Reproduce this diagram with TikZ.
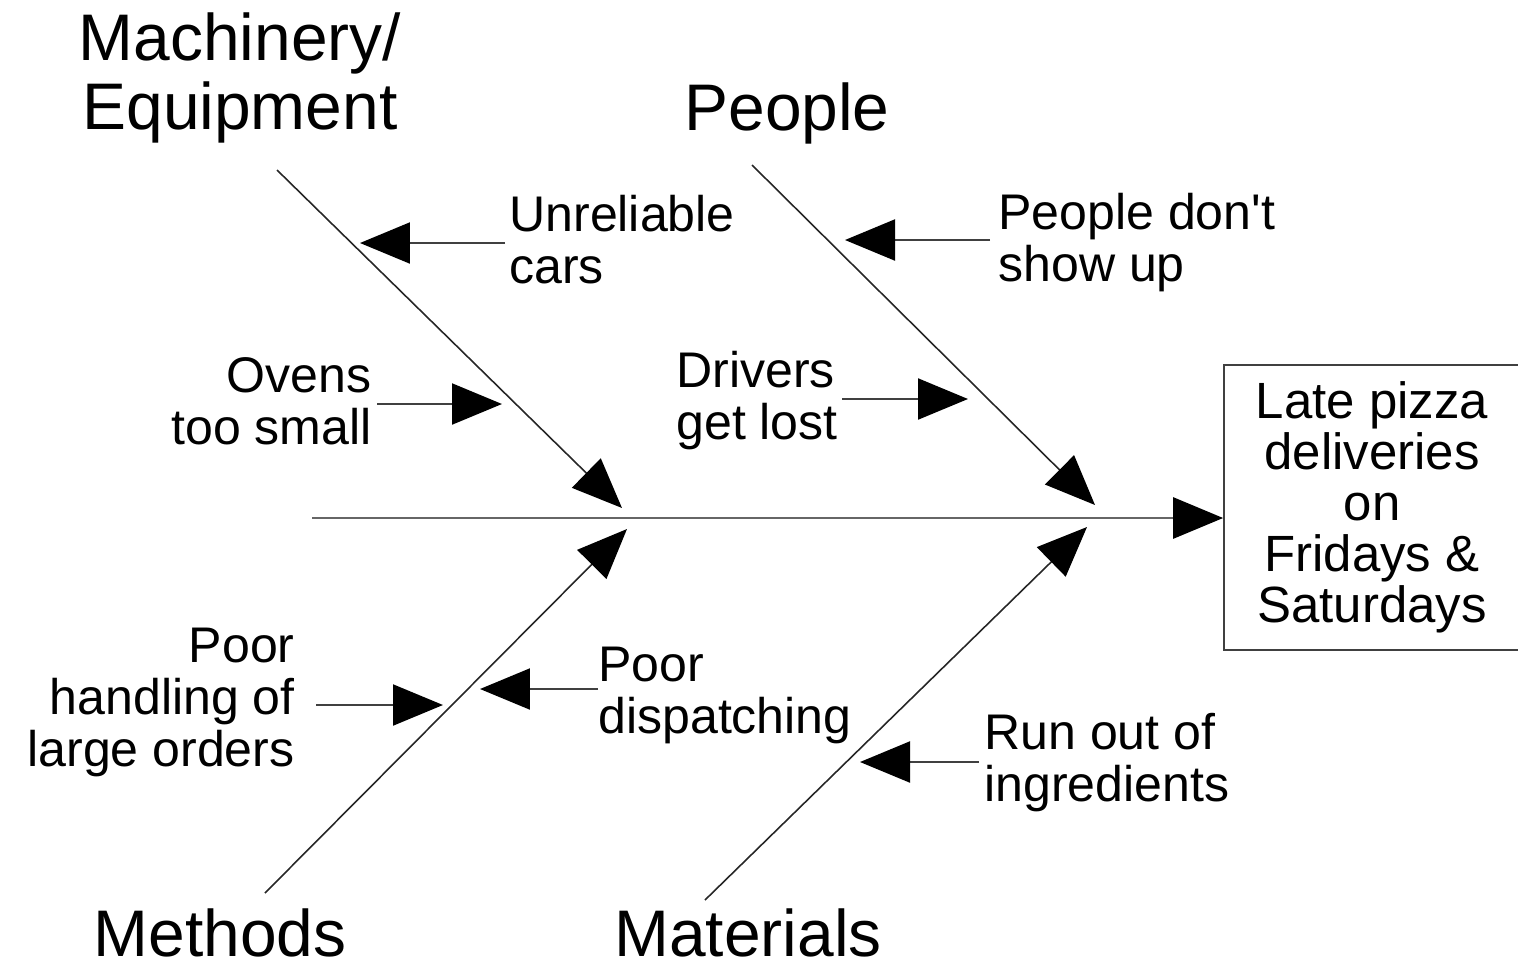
\documentclass[tikz,border=0pt]{standalone}
\usepackage{fontspec}
\setmainfont{Liberation Sans}
\usetikzlibrary{arrows.meta}
\begin{document}
\begin{tikzpicture}[x=0.02cm,y=-0.02cm,
  tip/.style={-{Triangle[length=1.0cm,width=0.82cm,color=black]}},
  bone/.style={tip,draw=black!85,line width=0.9pt},
  spine/.style={tip,draw=black!60,line width=1.6pt},
  cause/.style={tip,draw=black!75,line width=1.2pt},
  big/.style={inner sep=0pt,font=\fontsize{37.5}{39.5}\selectfont},
  small/.style={inner sep=0pt,font=\fontsize{28.5}{29.6}\selectfont},
  effect/.style={draw=black!75,line width=1pt,inner sep=0pt,minimum width=5.92cm,
    minimum height=5.7cm,align=center,font=\fontsize{29}{29}\selectfont}]
\useasboundingbox (0,0) rectangle (1518,971);
% effect box
\node[effect] (box) at (1372,507.5) {Late pizza\\deliveries\\on\\Fridays \&\\Saturdays};
% spine
\coordinate (tail) at (312,518);
\draw[spine] (tail) -- (tail -| box.west);
% category labels
\node[big,align=center,anchor=north] (mach) at (240,12) {Machinery/\\Equipment};
\node[big,anchor=north] (people) at (787,82) {People};
\node[big,anchor=north] (methods) at (220,908) {Methods};
\node[big,anchor=north] (materials) at (748,908) {Materials};
% bones
\coordinate (machA) at (277,170);  \coordinate (machB) at (622,508);
\coordinate (peopA) at (752,165);  \coordinate (peopB) at (1095,505);
\coordinate (methA) at (265,893);  \coordinate (methB) at (627,529);
\coordinate (mateA) at (705,900);  \coordinate (mateB) at (1087,527);
\draw[bone] (machA) -- (machB);
\draw[bone] (peopA) -- (peopB);
\draw[bone] (methA) -- (methB);
\draw[bone] (mateA) -- (mateB);
% causes
\node[small,anchor=north west,align=left] (unrel) at (509,195) {Unreliable\\cars};
\node[small,anchor=north west,align=left] (show) at (998,193) {People don\textquotesingle t\\show up};
\node[small,anchor=north east,align=right] (ovens) at (372,357) {Ovens\\too small};
\node[small,anchor=north west,align=left] (drivers) at (676,351) {Drivers\\get lost};
\node[small,anchor=north west,align=left] (disp) at (598,647) {Poor\\dispatching};
\node[small,anchor=north west,align=left] (runout) at (984,713) {Run out of\\ingredients};
\node[small,anchor=north east,align=right] (handling) at (295,628) {Poor\\handling of\\large orders};
% cause arrows
\coordinate (unrelS) at (505,243);   \coordinate (unrelE) at (360,243);
\coordinate (showS) at (990,240);    \coordinate (showE) at (845,240);
\coordinate (ovensS) at (377,404);   \coordinate (ovensE) at (502,404);
\coordinate (driversS) at (842,399); \coordinate (driversE) at (968,399);
\coordinate (dispS) at (598,689);    \coordinate (dispE) at (480,689);
\coordinate (runS) at (979,762);     \coordinate (runE) at (860,762);
\coordinate (handS) at (316,705);    \coordinate (handE) at (443,705);
\draw[cause] (unrelS) -- (unrelE);
\draw[cause] (showS) -- (showE);
\draw[cause] (ovensS) -- (ovensE);
\draw[cause] (driversS) -- (driversE);
\draw[cause] (dispS) -- (dispE);
\draw[cause] (runS) -- (runE);
\draw[cause] (handS) -- (handE);
\end{tikzpicture}
\end{document}
